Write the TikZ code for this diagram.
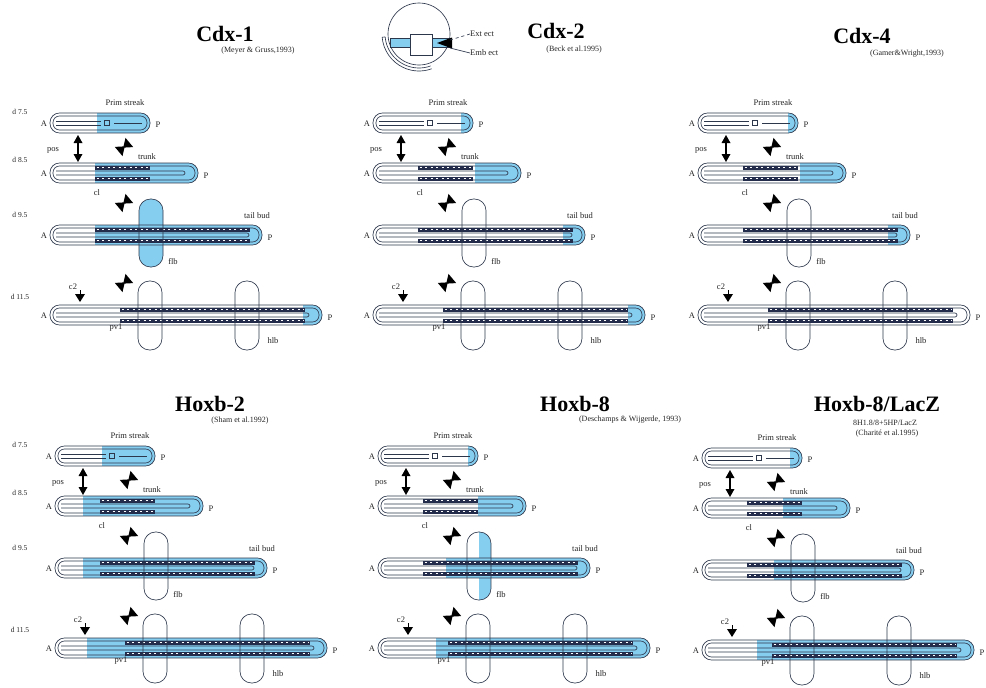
\documentclass[tikz,border=0pt]{standalone}
\usepackage{fontspec}
\setmainfont{Liberation Serif}
\definecolor{lblue}{RGB}{134,206,240}
\definecolor{tubec}{RGB}{45,55,75}
\definecolor{somc}{RGB}{35,45,75}

% tube outline with staining from #3 to the posterior end
\newcommand{\tubebody}[3]{%
  \begin{scope}
    \clip[rounded corners=9.5pt] (50,#1-10) rectangle (#2,#1+10);
    \fill[white] (50,#1-10) rectangle (#2,#1+10);
    \fill[lblue] (#3,#1-10) rectangle (#2+2,#1+10);
  \end{scope}
  \draw[tl, rounded corners=9.5pt] (50,#1-10) rectangle (#2,#1+10);
  \draw[tl, rounded corners=6.5pt] (53,#1-7) rectangle (#2-3,#1+7);
}
% neural lumen
\newcommand{\lumen}[2]{%
  \draw[tl, rounded corners=2pt] (56,#1-2) -- (#2-13,#1-2) -- (#2-13,#1+2) -- (56,#1+2);}
% paired somite rows
\newcommand{\somites}[3]{%
  \fill[somc] (#2,#1-7.5) rectangle (#3,#1-3.5);
  \fill[somc] (#2,#1+3.5) rectangle (#3,#1+7.5);
  \draw[white, line width=1.6pt, dash pattern=on 2.2pt off 3.3pt] (#2+1.6,#1-5.5) -- (#3-1,#1-5.5);
  \draw[white, line width=1.6pt, dash pattern=on 2.2pt off 3.3pt] (#2+1.6,#1+5.5) -- (#3-1,#1+5.5);
}
% limb bud outline
\newcommand{\budline}[3]{\draw[tl, rounded corners=11.5pt] (#1-12,#2) rectangle (#1+12,#3);}

% one expression series: #1 prefix, #2..#4 staining starts at d7.5, d8.5, d9.5,
% #5 fore limb bud staining, #6 staining start at d11.5
\newcommand{\series}[6]{%
  % d7.5
  \tubebody{123}{150}{#2}
  \draw[tl] (56,121)--(101,121) (56,125)--(101,125);
  \draw[tl] (104.5,120.5) rectangle (109.5,125.5);
  \draw[tl] (114,123)--(142,123);
  \node[lab] (#1-ps) at (125,103) {Prim streak};
  \node[lab] (#1-a1) at (44,124) {A};
  \node[lab] (#1-p1) at (158,125) {P};
  \pic at (78,148) {posarrow};
  \node[lab] (#1-pos) at (53,150) {pos};
  \pic[rotate=40] at (124,147) {bowtie};
  \node[lab] (#1-tr) at (147,157) {trunk};
  % d8.5
  \tubebody{173}{198}{#3}
  \lumen{173}{198}
  \somites{173}{95}{150}
  \node[lab] (#1-a2) at (44,174) {A};
  \node[lab] (#1-p2) at (206,176) {P};
  \node[lab] (#1-cl) at (97,193) {cl};
  \pic[rotate=40] at (124,203) {bowtie};
  % d9.5
  #5
  \tubebody{235}{262}{#4}
  \lumen{235}{262}
  \somites{235}{95}{250}
  \budline{151}{199}{267}
  \node[lab] (#1-a3) at (44,236) {A};
  \node[lab] (#1-p3) at (270,238) {P};
  \node[lab] (#1-tb) at (257,216) {tail bud};
  \node[lab] (#1-flb) at (173,262) {flb};
  % d11.5
  \tubebody{315}{322}{#6}
  \lumen{315}{322}
  \somites{315}{120}{305}
  \budline{150}{281}{350}
  \budline{247}{281}{350}
  \node[lab] (#1-a4) at (44,316) {A};
  \node[lab] (#1-p4) at (330,318) {P};
  \node[lab] (#1-c2) at (73,287) {c2};
  \pic at (80,297) {cmark};
  \pic[rotate=40] at (124,283) {bowtie};
  \node[lab] (#1-pv) at (116,328) {pv1};
  \node[lab] (#1-hlb) at (273,341) {hlb};
}

\tikzset{
  tl/.style={draw=tubec, line width=0.65pt},
  lab/.style={font=\fontsize{8.5}{9}\selectfont, inner sep=0pt, text=black!85},
  stage/.style={font=\fontsize{7.5}{8}\selectfont, inner sep=0pt, text=black!85},
  ttl/.style={font=\fontsize{22}{22}\selectfont\bfseries, inner sep=0pt},
  cite/.style={font=\fontsize{8}{8}\selectfont, inner sep=0pt, text=black!85},
  bowtie/.pic={\fill[black] (1,0) -- (-7,-6) -- (-7,6) -- cycle;
               \fill[black] (-1,0) -- (7,-6) -- (7,6) -- cycle;},
  posarrow/.pic={\fill[black] (0,-13) -- (-4.5,-5) -- (4.5,-5) -- cycle;
                 \fill[black] (0,14) -- (-4.5,6) -- (4.5,6) -- cycle;
                 \draw[black, line width=1.4pt] (0,-5) -- (0,6);},
  cmark/.pic={\fill[black] (0,5) -- (-5,-3) -- (5,-3) -- cycle;
              \draw[black, line width=1pt] (0,-3) -- (0,-7);},
}

\begin{document}
\begin{tikzpicture}[x=1pt,y=-1pt]
\useasboundingbox (0,0) rectangle (986,688);
\fill[white] (0,0) rectangle (986,688);

% embryo at the egg cylinder stage
\draw[tl] (419,34) circle[radius=31];
\draw[tl] (419,34) ++(175:34) arc[start angle=175, end angle=70, radius=34];
\draw[tl] (419,34) ++(175:37) arc[start angle=175, end angle=70, radius=37];
\draw[tl] (419,34) ++(175:34) -- ++(175:3);
\fill[lblue] (390,38) rectangle (410,47);
\fill[lblue] (432,38) rectangle (451,47);
\draw[tl] (390,38) rectangle (410,47) (432,38) rectangle (451,47);
\draw[tl, fill=white] (410,34) rectangle (432,55);
\fill[black] (437,43) -- (452,37.5) -- (452,48.5) -- cycle;
\node[lab, anchor=west] (extect) at (470,34) {Ext ect};
\node[lab, anchor=west] (embect) at (470,53) {Emb ect};
\coordinate (extend) at (450,40);
\coordinate (embend) at (450,48);
\draw[tl, dashed] (extect.west) -- (extend);
\draw[tl] (embect.west) -- (embend);

% titles
\node[ttl] (t1) at (225,34) {Cdx-1};
\node[cite] (c1) at (258,51) {(Meyer \& Gruss,1993)};
\node[ttl] (t2) at (556,31) {Cdx-2};
\node[cite] (c2) at (574,50) {(Beck et al.1995)};
\node[ttl] (t3) at (862,36) {Cdx-4};
\node[cite] (c3) at (907,54) {(Gamer\&Wright,1993)};
\node[ttl] (t4) at (210,404) {Hoxb-2};
\node[cite] (c4) at (240,421) {(Sham et al.1992)};
\node[ttl] (t5) at (575,404) {Hoxb-8};
\node[cite] (c5) at (630,420) {(Deschamps \& Wijgerde, 1993)};
\node[ttl] (t6) at (877,404) {Hoxb-8/LacZ};
\node[cite] (c6a) at (885,423) {8H1.8/8+5HP/LacZ};
\node[cite] (c6b) at (887,434) {(Charité et al.1995)};

% stage labels
\foreach \dy/\r in {0/a,333/b}{
  \node[stage] (s75\r) at (20,\dy+112) {d 7.5};
  \node[stage] (s85\r) at (20,\dy+160) {d 8.5};
  \node[stage] (s95\r) at (20,\dy+215) {d 9.5};
  \node[stage] (s115\r) at (20,\dy+297) {d 11.5};
}

% expression series
\begin{scope}
  \series{cdxa}{97}{95}{95}{\fill[lblue, rounded corners=11.5pt] (139,199) rectangle (163,267);}{303}
\end{scope}
\begin{scope}[shift={(323,0)}]
  \series{cdxb}{138}{152}{240}{}{305}
\end{scope}
\begin{scope}[shift={(648,0)}]
  \series{cdxd}{140}{152}{240}{}{400}
\end{scope}
\begin{scope}[shift={(5,333)}]
  \series{hoxa}{97}{78}{78}{}{82}
\end{scope}
\begin{scope}[shift={(328,333)}]
  \series{hoxb}{140}{150}{118}{\begin{scope}\clip[rounded corners=11.5pt] (139,199) rectangle (163,267);
    \fill[lblue] (151,199) rectangle (163,267);\end{scope}}{108}
\end{scope}
\begin{scope}[shift={(652,335)}]
  \series{hoxc}{138}{131}{122}{}{105}
\end{scope}
\end{tikzpicture}
\end{document}
